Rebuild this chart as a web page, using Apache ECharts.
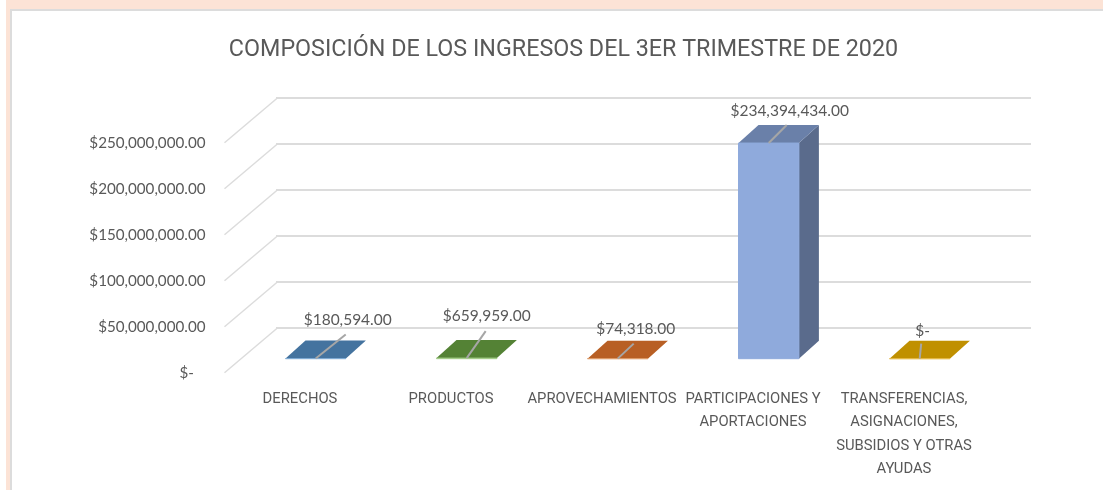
<!DOCTYPE html>
<html>
<head>
<meta charset="utf-8">
<script src="https://cdn.jsdelivr.net/npm/echarts@6/dist/echarts.min.js"></script>
<style>
html,body{margin:0;padding:0;background:#fff;width:1103px;height:490px;overflow:hidden}
#frame{position:absolute;left:6px;top:0;right:0;bottom:0;background:#fce3d6}
#panel{position:absolute;left:10px;top:9px;right:0;bottom:0;background:#fff;border-left:2.5px solid #dcdcdc;border-top:2.5px solid #dcdcdc}
#main{position:absolute;left:0;top:0;width:1103px;height:490px}
</style>
</head>
<body>
<div id="frame"></div><div id="panel"></div>
<div id="main"></div>
<script>
const titleText = 'COMPOSICIÓN DE LOS INGRESOS DEL 3ER TRIMESTRE DE 2020';
const categories = ['DERECHOS','PRODUCTOS','APROVECHAMIENTOS','PARTICIPACIONES Y\nAPORTACIONES','TRANSFERENCIAS,\nASIGNACIONES,\nSUBSIDIOS Y OTRAS\nAYUDAS'];
const values = [180594, 659959, 74318, 234394434, 0];
const yTicks = [0, 50000000, 100000000, 150000000, 200000000, 250000000];
const frontColors = ['#7fabd3','#a3cc88','#dd9a68','#8faadc','#e3b847'];
const topColors = ['#44739f','#548235','#b85f24','#6a80a9','#c09000'];
const sideColors = ['#34587a','#3f6228','#8c481b','#5a6b8c','#927000'];
const leaderEnds = [[30,-24],[19,-27],[16,-15],[18,-18],[1.5,-15]];
const labelOffsets = [[32,-39],[20,-42],[18,-30],[21,-32],[3,-28]];
const FONT = 'Lato, "Noto Sans", sans-serif';
const CAPS_FONT = 'Roboto, Lato, sans-serif';
const TEXT = '#595959';
const GRIDLINE = '#dcdcdc';
const WALL_DX = 52, WALL_DY = -44;
const BAR_DX = 20, BAR_DY = -18;

function money(v){
  return v === 0 ? '$-' : '$' + v.toLocaleString('en-US',{minimumFractionDigits:2,maximumFractionDigits:2});
}

const chart = echarts.init(document.getElementById('main'), null, {renderer:'canvas'});
const hiddenX = i => ({type:'category',gridIndex:i,data:categories,show:false});
const hiddenY = i => ({type:'value',gridIndex:i,min:0,max:250000000,interval:50000000,show:false});

chart.setOption({
  animation:false,
  backgroundColor:'transparent',
  title:{text:titleText,left:558.5,top:34,textAlign:'center',
    textStyle:{fontFamily:CAPS_FONT,fontSize:23.3,fontWeight:'normal',color:TEXT}},
  grid:[
    {left:224.5,width:755,top:142.7,height:230},   // front plane: axis labels
    {left:276,width:755,top:97.3,height:230},      // back wall: gridlines
    {left:240.2,width:755,top:128.7,height:230}    // bar plane
  ],
  xAxis:[
    {type:'category',gridIndex:0,data:categories,
      axisLine:{show:false},axisTick:{show:false},
      axisLabel:{interval:0,hideOverlap:false,margin:15,fontFamily:CAPS_FONT,fontSize:14.8,color:TEXT,lineHeight:23.3,verticalAlign:'top'}},
    hiddenX(1),hiddenX(2)
  ],
  yAxis:[
    {type:'value',gridIndex:0,min:0,max:250000000,interval:50000000,
      axisLine:{show:false},axisTick:{show:false},splitLine:{show:false},
      axisLabel:{margin:19,fontFamily:FONT,fontSize:15.2,color:TEXT,
        formatter:v=> v===0 ? '$-   ' : money(v)}},
    {type:'value',gridIndex:1,min:0,max:250000000,interval:50000000,
      axisLine:{show:false},axisTick:{show:false},axisLabel:{show:false},
      splitLine:{show:true,lineStyle:{color:GRIDLINE,width:2}}},
    hiddenY(2)
  ],
  series:[
    {
      type:'custom',xAxisIndex:0,yAxisIndex:0,clip:false,silent:true,
      data:yTicks.map(v=>[0,v]),
      renderItem(params,api){
        const p = api.coord([0,api.value(1)]);
        const half = api.size([1,0])[0]/2;
        return {type:'line',
          shape:{x1:p[0]-half,y1:p[1],x2:p[0]-half+WALL_DX,y2:p[1]+WALL_DY},
          style:{stroke:GRIDLINE,lineWidth:1.5}};
      }
    },
    {
      type:'custom',xAxisIndex:2,yAxisIndex:2,clip:false,silent:true,
      data:values.map((v,i)=>[i,v]),
      renderItem(params,api){
        const i = params.dataIndex;
        const v = api.value(1);
        const t = api.coord([i,v]);
        const b = api.coord([i,0]);
        const w = api.size([1,0])[0]*0.4;
        const xl = t[0]-w/2, xr = t[0]+w/2;
        const tall = b[1]-t[1] > 2;
        const children = [];
        if (tall) children.push({type:'polygon',shape:{points:[[xr,t[1]],[xr+BAR_DX,t[1]+BAR_DY],[xr+BAR_DX,b[1]+BAR_DY],[xr,b[1]]]},
          style:{fill:sideColors[i]}});
        children.push({type:'polygon',shape:{points:[[xl,t[1]],[xl+BAR_DX,t[1]+BAR_DY],[xr+BAR_DX,t[1]+BAR_DY],[xr,t[1]]]},
          style:{fill:topColors[i]}});
        children.push({type:'polygon',shape:{points:[[xl,t[1]],[xr,t[1]],[xr,b[1]],[xl,b[1]]]},
          style:{fill:frontColors[i],stroke:frontColors[i],lineWidth:1}});
        const cx = t[0], cy = t[1];
        children.push({type:'line',shape:{x1:cx,y1:cy,x2:cx+leaderEnds[i][0],y2:cy+leaderEnds[i][1]},
          style:{stroke:'#a6a6a6',lineWidth:2}});
        children.push({type:'text',
          style:{text:money(v),x:cx+labelOffsets[i][0],y:cy+labelOffsets[i][1],align:'center',verticalAlign:'middle',
            font:'15.5px '+FONT,fill:TEXT}});
        return {type:'group',children};
      }
    }
  ]
});
</script>
</body>
</html>
